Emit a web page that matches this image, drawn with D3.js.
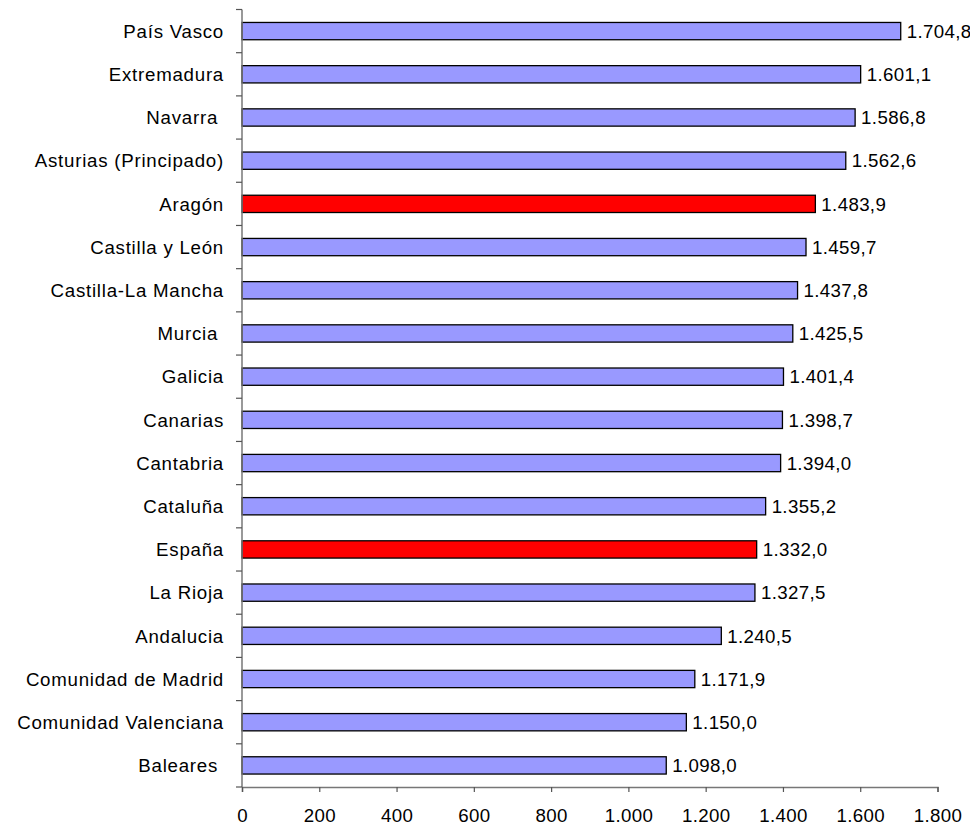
<!DOCTYPE html>
<html><head><meta charset="utf-8">
<script src="https://cdn.jsdelivr.net/npm/d3@7"></script>
<style>body{margin:0;background:#fff}svg text{font-family:"Liberation Sans",Arial,sans-serif;white-space:pre}</style>
</head><body>
<svg id="c" width="970" height="827"></svg>
<script>
const categories = ["País Vasco","Extremadura","Navarra ","Asturias (Principado)","Aragón","Castilla y León","Castilla-La Mancha","Murcia ","Galicia","Canarias","Cantabria","Cataluña","España","La Rioja","Andalucia","Comunidad de Madrid","Comunidad Valenciana","Baleares "];
const values = [1704.8,1601.1,1586.8,1562.6,1483.9,1459.7,1437.8,1425.5,1401.4,1398.7,1394.0,1355.2,1332.0,1327.5,1240.5,1171.9,1150.0,1098.0];
const highlighted = ["Aragón","España"];
const xTicks = [0,200,400,600,800,1000,1200,1400,1600,1800];

(function(){
const svg = d3.select("#c");
const mL = 242, mR = 937.5, mT = 9.5, mB = 787;
const x = d3.scaleLinear().domain([0,1800]).range([mL,mR]);
const y = d3.scaleBand().domain(categories).range([mT,mB]).paddingInner(0.6).paddingOuter(0.3);
const fmt = v => {
  const s = d3.format(",.1f")(v);
  return s.replace(/,/g,"#").replace(".",",").replace(/#/g,".");
};
const fmtTick = v => d3.format(",")(v).replace(/,/g,".");
const fs = 18.7, ls = "0.35px", lsCat = "0.75px";

svg.selectAll("rect.bar").data(categories).join("rect")
  .attr("x", x(0)).attr("y", d=>y(d))
  .attr("width", (d,i)=>x(values[i])-x(0)).attr("height", y.bandwidth())
  .attr("fill", d=>highlighted.includes(d)?"#ff0000":"#9999ff")
  .attr("stroke","#000").attr("stroke-width",1.3);

svg.selectAll("text.val").data(categories).join("text")
  .attr("x",(d,i)=>x(values[i])+6).attr("y",d=>y(d)+y.bandwidth()/2)
  .attr("dy","0.36em").attr("font-size",fs).attr("letter-spacing",ls).attr("fill","#000")
  .text((d,i)=>fmt(values[i]));

const step = y.step();
svg.append("line").attr("x1",mL).attr("x2",mL).attr("y1",mT).attr("y2",mB)
  .attr("stroke","#777").attr("stroke-width",1.5);
d3.range(categories.length+1).forEach(k=>{
  const yy = mT + k*step;
  svg.append("line").attr("x1",mL-6).attr("x2",mL).attr("y1",yy).attr("y2",yy)
    .attr("stroke","#555").attr("stroke-width",1.2);
});
svg.selectAll("text.cat").data(categories).join("text")
  .attr("x",224).attr("y",d=>y(d)+y.bandwidth()/2).attr("dy","0.36em")
  .attr("text-anchor","end").attr("font-size",fs).attr("letter-spacing",lsCat).attr("fill","#000")
  .text(d=>d);

const xa = svg.append("g").attr("transform",`translate(0,${mB})`)
  .call(d3.axisBottom(x).tickValues(xTicks).tickFormat(fmtTick).tickSize(5).tickPadding(17));
xa.select(".domain").attr("stroke","#777").attr("stroke-width",1.5);
xa.selectAll(".tick line").attr("stroke","#555").attr("stroke-width",1.2);
xa.selectAll(".tick text").attr("font-size",fs).attr("letter-spacing",ls).attr("font-family",'"Liberation Sans",Arial,sans-serif').attr("fill","#000");
})();
</script>
</body></html>
